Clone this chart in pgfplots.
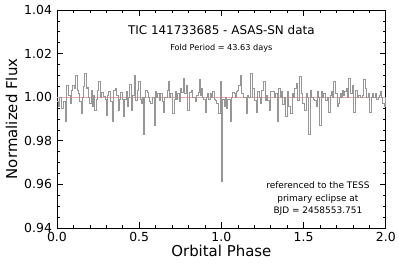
\documentclass[border=0pt]{standalone}
\usepackage{fontspec}
\setmainfont{DejaVu Sans}
\usepackage{pgfplots}
\pgfplotsset{compat=1.18}
\definecolor{pinkline}{RGB}{240,165,165}
\definecolor{dgray}{RGB}{150,150,150}
\begin{document}
\begin{tikzpicture}
\begin{axis}[name=ax, scale only axis, width=329bp, height=218bp,
 xmin=0, xmax=2, ymin=0.94, ymax=1.04,
 xtick={0,0.5,1,1.5,2}, minor x tick num=4,
 ytick={0.94,0.96,0.98,1.00,1.02,1.04}, minor y tick num=3,
 tick align=inside, major tick length=6bp, minor tick length=3bp,
 tick style={black, line width=0.6bp},
 axis line style={line width=0.7bp},
 tick label style={font=\fontsize{12.5}{15}\selectfont},
 xticklabel style={yshift=-1bp, /pgf/number format/.cd, fixed, zerofill, precision=1},
 yticklabel style={xshift=-1.5bp, /pgf/number format/.cd, fixed, zerofill, precision=2},
 /pgf/number format/assume math mode=true,
 xlabel={Orbital Phase}, ylabel={Normalized Flux},
 label style={font=\fontsize{15}{18}\selectfont},
 xlabel style={yshift=3bp},
 ylabel style={yshift=0bp},
 clip=true]
\addplot[draw=pinkline, line width=0.7bp] coordinates {(0,1) (2,1)};
\addplot[const plot, draw=dgray, line width=0.9bp] table {
x y
0.000 0.998
0.008 0.9955
0.018 1.000
0.028 0.995
0.038 0.998
0.049 0.989
0.059 1.0055
0.069 1.001
0.079 0.997
0.086 1.003
0.093 1.0055
0.104 1.004
0.115 1.010
0.123 1.003
0.130 1.0017
0.138 0.998
0.146 0.9925
0.155 1.000
0.163 1.005
0.170 1.011
0.178 1.004
0.186 1.0045
0.193 1.000
0.200 0.997
0.208 1.003
0.215 0.9955
0.223 1.001
0.231 0.994
0.240 0.999
0.248 1.003
0.255 1.007
0.262 1.000
0.270 1.002
0.282 1.0005
0.292 0.999
0.302 0.9917
0.309 1.001
0.316 1.0025
0.326 0.998
0.336 0.989
0.345 1.003
0.353 1.004
0.363 1.001
0.373 0.994
0.381 0.999
0.389 1.002
0.396 0.999
0.403 0.991
0.412 0.999
0.420 1.0025
0.426 0.9955
0.433 1.000
0.440 1.006
0.450 0.994
0.460 1.001
0.470 1.010
0.480 0.9986
0.489 1.003
0.497 1.007
0.505 0.999
0.512 0.997
0.518 1.000
0.525 0.983
0.533 1.000
0.541 1.003
0.548 1.002
0.555 1.000
0.563 0.998
0.571 0.997
0.580 1.000
0.590 0.987
0.600 1.0025
0.606 1.000
0.612 1.0017
0.622 0.9986
0.632 1.0017
0.640 0.998
0.648 0.993
0.656 1.000
0.663 1.000
0.671 1.003
0.679 1.007
0.686 1.000
0.693 1.0017
0.704 0.9925
0.712 0.999
0.720 1.0025
0.727 0.999
0.734 1.0017
0.742 0.998
0.750 1.004
0.760 1.002
0.770 1.0085
0.778 1.0017
0.786 1.0055
0.795 0.994
0.805 1.002
0.815 1.003
0.823 1.000
0.831 1.000
0.841 0.998
0.851 1.001
0.860 1.002
0.867 1.008
0.874 1.001
0.881 1.004
0.887 1.000
0.892 0.999
0.902 0.993
0.909 1.000
0.916 1.0017
0.924 0.999
0.932 1.0017
0.940 1.000
0.948 1.0025
0.955 0.999
0.963 0.9986
0.973 0.997
0.983 0.9925
0.993 1.007
1.000 0.9615
1.007 0.999
1.017 0.9955
1.023 1.000
1.029 0.9947
1.037 0.999
1.044 0.999
1.054 0.989
1.064 1.000
1.070 1.002
1.077 1.0017
1.085 1.000
1.090 1.0025
1.097 1.003
1.104 1.0055
1.115 1.010
1.125 1.0017
1.132 1.000
1.139 1.000
1.151 0.9925
1.158 1.001
1.165 1.000
1.175 1.011
1.186 1.000
1.191 1.004
1.202 0.9986
1.212 0.993
1.222 1.0025
1.229 1.000
1.236 0.997
1.246 1.003
1.256 1.007
1.269 0.9985
1.276 1.001
1.283 0.9986
1.293 0.994
1.300 1.0025
1.309 1.0025
1.320 1.000
1.330 1.0017
1.338 0.989
1.350 1.004
1.357 1.000
1.364 1.0025
1.374 0.9965
1.382 1.000
1.390 0.991
1.400 1.0025
1.410 0.9955
1.418 0.9925
1.430 1.0017
1.438 1.000
1.445 1.004
1.455 1.0065
1.465 0.9986
1.475 1.0095
1.485 1.0017
1.496 0.997
1.506 0.994
1.516 1.0017
1.523 1.000
1.530 0.983
1.540 1.003
1.546 1.000
1.552 1.000
1.560 0.999
1.567 0.9986
1.577 0.9955
1.587 1.0025
1.593 1.000
1.597 0.987
1.609 1.0025
1.616 1.000
1.623 1.0017
1.633 0.9986
1.643 1.000
1.653 0.993
1.661 1.001
1.670 1.0025
1.677 1.000
1.684 1.007
1.694 1.0017
1.704 0.9955
1.710 0.997
1.717 1.000
1.724 1.0017
1.731 1.000
1.739 1.003
1.745 1.001
1.751 1.0025
1.761 1.004
1.768 1.000
1.775 1.0085
1.785 1.0017
1.795 1.0055
1.805 0.993
1.815 1.003
1.826 1.000
1.836 1.001
1.846 1.000
1.856 1.0008
1.866 1.008
1.876 1.004
1.885 1.000
1.893 1.0017
1.903 0.993
1.910 1.000
1.917 1.0017
1.927 1.000
1.937 1.0017
1.945 0.999
1.953 1.000
1.960 1.001
1.968 1.0025
1.975 1.000
1.982 0.997
1.990 0.9955
2.000 1.000
};
\node[font=\fontsize{12}{14}\selectfont] at (axis cs:1,1.0308) {TIC 141733685 - ASAS-SN data};
\node[font=\fontsize{8.2}{10}\selectfont] at (axis cs:1,1.0226) {Fold Period = 43.63 days};
\node[font=\fontsize{9}{12.5}\selectfont, align=center] at (axis cs:1.587,0.9533) {referenced to the TESS\\primary eclipse at\\BJD = 2458553.751};
\end{axis}
\path ([xshift=-57bp,yshift=-39bp]ax.south west) rectangle ([xshift=13bp,yshift=10bp]ax.north east);
\end{tikzpicture}
\end{document}
